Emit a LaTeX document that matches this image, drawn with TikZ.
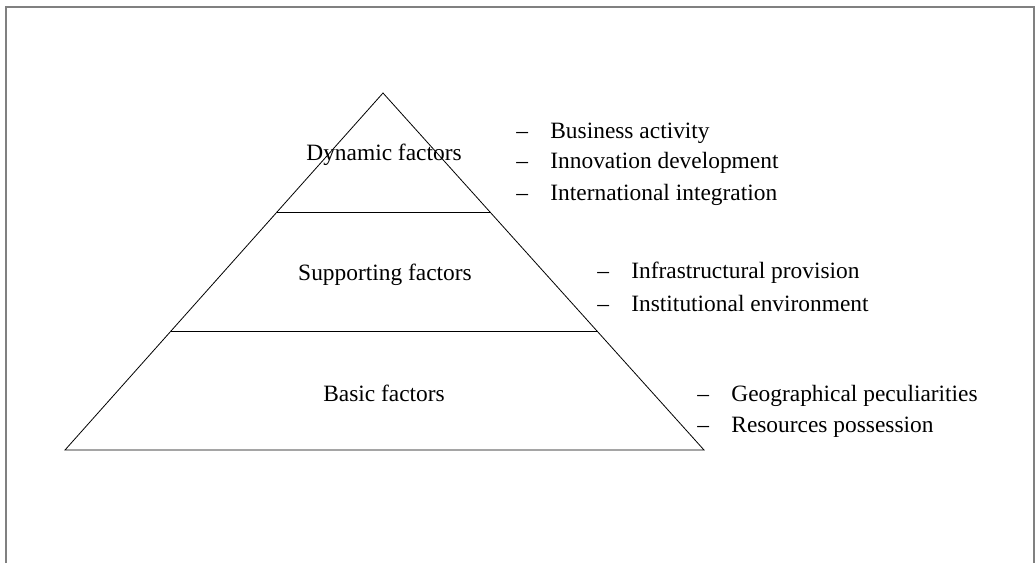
\documentclass[tikz,border=0pt]{standalone}
\usepackage{fontspec}
\setmainfont{Liberation Serif}
\usetikzlibrary{calc}

\newcommand{\factoritem}[1]{\makebox[17pt][l]{--}#1}

\tikzset{
    level/.style={font=\fontsize{11.7}{13}\selectfont, inner sep=0pt},
    factor/.style={font=\fontsize{11.7}{13}\selectfont, anchor=west, inner sep=0pt},
}

\begin{document}
\begin{tikzpicture}[x=0.5pt, y=-0.5pt]
        \useasboundingbox (0, 0) rectangle (1036, 563);

        % frame
        \draw[gray, line width=1pt] (6, 563) -- (6, 7) -- (1034, 7) -- (1034, 563);

        % pyramid
        \coordinate (apex) at (383, 93);
        \coordinate (bl) at (65, 450);
        \coordinate (br) at (704, 450);
        \draw (apex) -- (bl) -- (br) -- cycle;

        \coordinate (l1) at ($(apex)!1/3!(bl)$);
        \coordinate (r1) at ($(apex)!1/3!(br)$);
        \coordinate (l2) at ($(apex)!2/3!(bl)$);
        \coordinate (r2) at ($(apex)!2/3!(br)$);
        \draw (l1) -- (r1);
        \draw (l2) -- (r2);

        \node[level] (dynamic) at (384, 155) {Dynamic factors};
        \node[level] (supporting) at (385, 275) {Supporting factors};
        \node[level] (basic) at (384, 393) {Basic factors};

        % dynamic factors
        \node[factor] (business) at (516, 133) {\factoritem{Business activity}};
        \node[factor] (innovation) at (516, 163) {\factoritem{Innovation development}};
        \node[factor] (international) at (516, 195) {\factoritem{International integration}};

        % supporting factors
        \node[factor] (infrastructure) at (597, 273) {\factoritem{Infrastructural provision}};
        \node[factor] (institutional) at (597, 303) {\factoritem{Institutional environment}};

        % basic factors
        \node[factor] (geographical) at (697, 396) {\factoritem{Geographical peculiarities}};
        \node[factor] (resources) at (697, 427) {\factoritem{Resources possession}};
    \end{tikzpicture}
\end{document}
